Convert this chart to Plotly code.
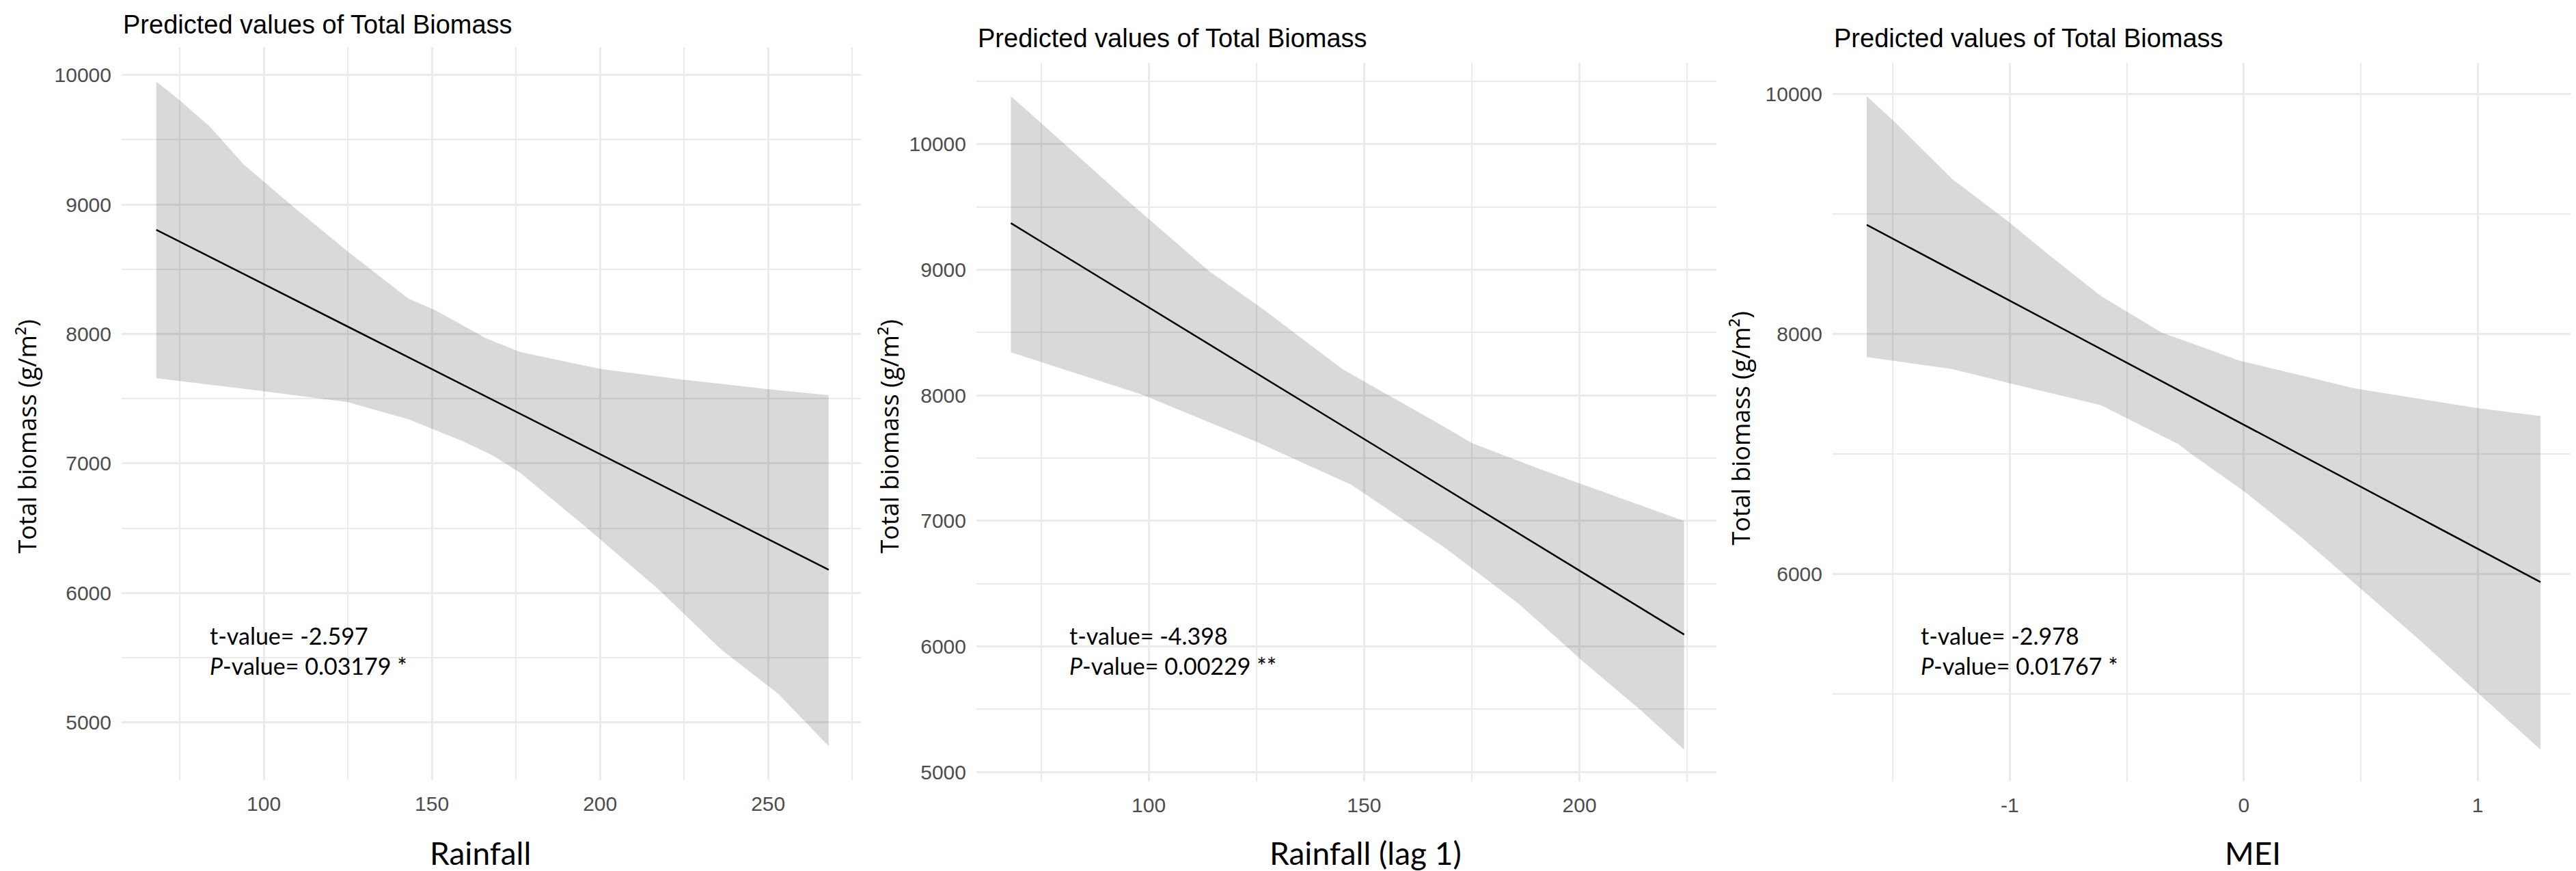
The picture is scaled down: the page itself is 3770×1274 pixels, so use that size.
import plotly.graph_objects as go

W, H = 3770, 1274

# panel 1: Rainfall
rain_line_x = [68, 268]
rain_line_y = [8805, 6179]
rain_up_x = [68, 75, 84, 94, 108, 125, 143, 151, 166, 176, 200, 225, 250, 268]
rain_up = [9950, 9805, 9600, 9310, 9000, 8637, 8274, 8184, 7968, 7863, 7731, 7647, 7574, 7527]
rain_lo_x = [68, 100, 125, 143, 159, 168, 176, 195, 217, 236, 253, 268]
rain_lo = [7658, 7558, 7474, 7342, 7174, 7063, 6932, 6526, 6037, 5563, 5221, 4816]

# panel 2: Rainfall (lag 1)
lag_line_x = [68, 224.3]
lag_line_y = [9370, 6095]
lag_up_x = [68, 75, 96, 114, 127, 145, 168, 175, 191, 201, 224.3]
lag_up = [10380, 10168, 9522, 8989, 8674, 8207, 7761, 7620, 7410, 7288, 7000]
lag_lo_x = [68, 98.5, 125, 147, 169, 186, 201, 214, 224.3]
lag_lo = [8342, 8005, 7630, 7288, 6780, 6337, 5875, 5500, 5179]

# panel 3: MEI
mei_line_x = [-1.611, 1.268]
mei_line_y = [8910, 5931]
mei_up_x = [-1.611, -1.5, -1.247, -1.01, -0.821, -0.61, -0.35, -0.02, 0.476, 0.996, 1.268]
mei_up = [9983, 9784, 9295, 8944, 8641, 8316, 8012, 7779, 7545, 7383, 7315]
mei_lo_x = [-1.611, -1.247, -1.01, -0.61, -0.443, -0.28, -0.231, 0.004, 0.24, 0.5, 0.76, 1.007, 1.268]
mei_lo = [7807, 7708, 7594, 7406, 7241, 7082, 7008, 6684, 6314, 5876, 5432, 4994, 4533]

# tick labels
rain_xticks = [100, 150, 200, 250]
lag_xticks = [100, 150, 200]
mei_xticks = [-1, 0, 1]
mei_xlabels = ["-1", "0", "1"]
biomass_yticks = [5000, 6000, 7000, 8000, 9000, 10000]
mei_yticks = [6000, 8000, 10000]

x_titles = ["Rainfall", "Rainfall (lag 1)", "MEI"]
stats = [("-2.597", "0.03179 *"), ("-4.398", "0.00229 **"), ("-2.978", "0.01767 *")]
title_text = "Predicted values of Total Biomass"
y_title = "Total biomass (g/m²)"

panels = [
    dict(line=(rain_line_x, rain_line_y), up=(rain_up_x, rain_up), lo=(rain_lo_x, rain_lo),
         xt=rain_xticks, xl=[str(v) for v in rain_xticks], yt=biomass_yticks,
         px=(170, 1252), py=(61, 1136), xr=[57.7, 277.6], yr=[4553, 10216],
         xm=25, x0=100, ym=500,
         title_y=28, ytx=32, yty=632, xtx=695, box=(266, 594), txt_x=297),
    dict(line=(lag_line_x, lag_line_y), up=(lag_up_x, lag_up), lo=(lag_lo_x, lag_lo),
         xt=lag_xticks, xl=[str(v) for v in lag_xticks], yt=biomass_yticks,
         px=(1421, 2504), py=(84, 1138), xr=[60, 231.8], yr=[4924, 10647],
         xm=25, x0=100, ym=500,
         title_y=48, ytx=1294, yty=632, xtx=1991, box=(1525, 1874), txt_x=1555),
    dict(line=(mei_line_x, mei_line_y), up=(mei_up_x, mei_up), lo=(mei_lo_x, mei_lo),
         xt=mei_xticks, xl=mei_xlabels, yt=mei_yticks,
         px=(2674, 3760), py=(84, 1138), xr=[-1.757, 1.414], yr=[4266, 10262],
         xm=0.5, x0=0, ym=1000,
         title_y=48, ytx=2540, yty=620, xtx=3289, box=(2771, 3101), txt_x=2801),
]

fig = go.Figure()
ann = []
shapes = []
tick_font = dict(family="Liberation Sans, Arial, sans-serif", size=30, color="#4d4d4d")

for i, p in enumerate(panels):
    n = "" if i == 0 else str(i + 1)
    xa, ya = "x" + n, "y" + n
    fig.add_trace(go.Scatter(x=p["lo"][0], y=p["lo"][1], mode="lines", line=dict(width=0),
                             xaxis=xa, yaxis=ya, showlegend=False, hoverinfo="skip"))
    fig.add_trace(go.Scatter(x=p["up"][0], y=p["up"][1], mode="lines", line=dict(width=0),
                             fill="tonexty", fillcolor="rgba(0,0,0,0.15)",
                             xaxis=xa, yaxis=ya, showlegend=False, hoverinfo="skip"))
    fig.add_trace(go.Scatter(x=p["line"][0], y=p["line"][1], mode="lines",
                             line=dict(color="black", width=2.5),
                             xaxis=xa, yaxis=ya, showlegend=False))

    grid = dict(showgrid=True, gridcolor="#ebebeb", gridwidth=3, zeroline=False,
                showline=False, ticks="", tickfont=tick_font, ticklabelstandoff=14)
    fig.layout["xaxis" + n] = dict(grid, domain=[p["px"][0] / W, p["px"][1] / W],
                                   range=p["xr"], anchor=ya, tickmode="array",
                                   tickvals=p["xt"], ticktext=p["xl"],
                                   minor=dict(showgrid=True, dtick=p["xm"], tick0=p["x0"],
                                              gridcolor="#ebebeb", gridwidth=2))
    fig.layout["yaxis" + n] = dict(grid, domain=[1 - p["py"][1] / H, 1 - p["py"][0] / H],
                                   range=p["yr"], anchor=xa, tickmode="array",
                                   tickvals=p["yt"], ticktext=[str(v) for v in p["yt"]],
                                   minor=dict(showgrid=True, dtick=p["ym"], tick0=0,
                                              gridcolor="#ebebeb", gridwidth=2))

    # panel title
    ann.append(dict(text=title_text, xref="paper", yref="paper", x=p["px"][0] / W,
                    y=1 - p["title_y"] / H, xanchor="left", yanchor="middle", showarrow=False,
                    font=dict(family="Liberation Sans, Arial, sans-serif", size=38, color="black")))
    # axis titles
    ann.append(dict(text=y_title, xref="paper", yref="paper", x=p["ytx"] / W,
                    y=1 - p["yty"] / H, textangle=-90, xanchor="center", yanchor="middle",
                    showarrow=False, font=dict(family="Open Sans, sans-serif", size=36, color="black")))
    ann.append(dict(text=x_titles[i], xref="paper", yref="paper", x=p["xtx"] / W,
                    y=1 - 1242 / H, xanchor="center", yanchor="middle", showarrow=False,
                    font=dict(family="Lato, sans-serif", size=46, color="black")))
    # statistics box
    shapes.append(dict(type="rect", xref="paper", yref="paper", layer="between",
                       x0=p["box"][0] / W, x1=p["box"][1] / W, y0=1 - 1002 / H, y1=1 - 888 / H,
                       fillcolor="white", line=dict(width=0)))
    t, pv = stats[i]
    ann.append(dict(text=f"t-value= {t}<br><i>P</i>-value= {pv}", xref="paper", yref="paper",
                    x=p["txt_x"] / W, y=1 - 946 / H, xanchor="left", yanchor="middle",
                    align="left", showarrow=False,
                    font=dict(family="Lato, sans-serif", size=34, color="black")))

fig.update_layout(width=W, height=H, margin=dict(l=0, r=0, t=0, b=0),
                  plot_bgcolor="white", paper_bgcolor="white",
                  annotations=ann, shapes=shapes)

fig.write_html("out.html")
